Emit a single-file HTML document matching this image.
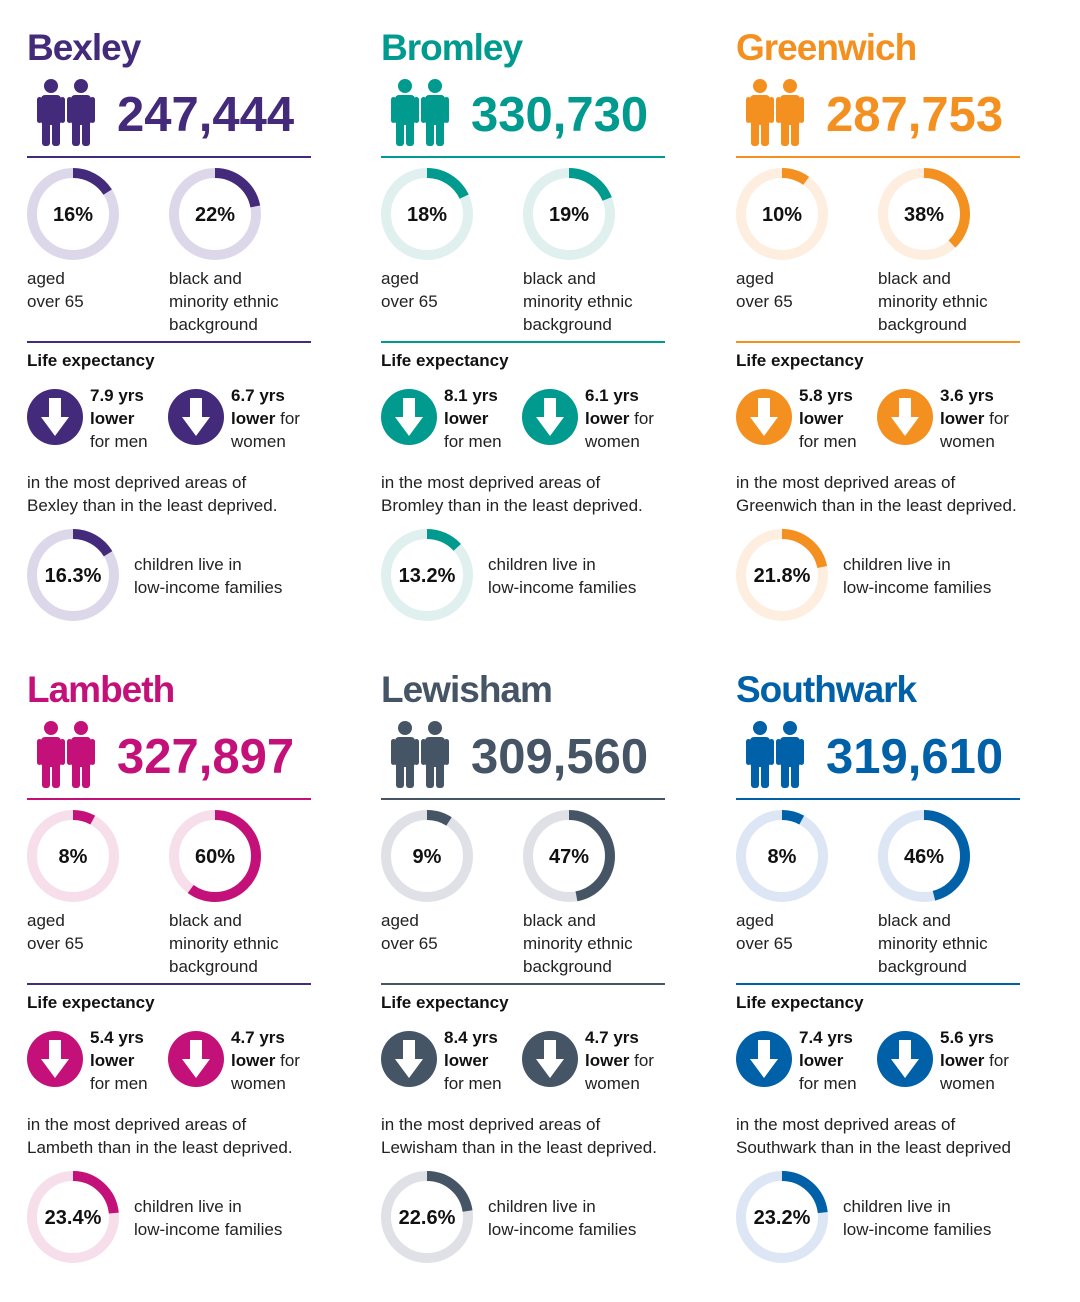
<!DOCTYPE html>
<html><head><meta charset="utf-8"><style>
html,body{margin:0;padding:0;background:#fff;}
svg{display:block;font-family:"Liberation Sans",sans-serif;}
.t{font-size:37px;font-weight:bold;letter-spacing:-1px}
.n{font-size:49px;font-weight:bold}
.p{font-size:20px;font-weight:bold;fill:#111;text-anchor:middle}
.s{font-size:17px;fill:#222}
.b{font-size:17px;fill:#111;font-weight:bold}
</style></head><body>
<svg width="1080" height="1302" viewBox="0 0 1080 1302" xmlns="http://www.w3.org/2000/svg">
<defs>
<g id="man">
<circle cx="14" cy="8" r="7"/>
<rect x="4" y="17" width="20" height="30" rx="4"/>
<rect x="0" y="19" width="5" height="26" rx="2.5"/>
<rect x="23" y="19" width="5" height="26" rx="2.5"/>
<rect x="5" y="40" width="8" height="28" rx="3"/>
<rect x="15" y="40" width="8" height="28" rx="3"/>
</g>
<g id="people"><use href="#man" x="37" y="78"/><use href="#man" x="67" y="78"/></g>
<g id="arrow">
<rect x="-6" y="-19" width="12" height="20" fill="#fff"/>
<polygon points="-14,0 14,0 0,19" fill="#fff"/>
</g>
</defs>

<!-- Bexley -->
<g transform="translate(0,0)">
<text x="27" y="60" class="t" fill="#432a7a">Bexley</text>
<g fill="#432a7a"><use href="#people"/></g>
<text x="117" y="131" class="n" fill="#432a7a">247,444</text>
<rect x="27" y="156" width="284" height="2" fill="#432a7a"/>
<circle cx="73" cy="214" r="41" fill="none" stroke="#dcd8ea" stroke-width="10"/>
<circle cx="73" cy="214" r="41" fill="none" stroke="#432a7a" stroke-width="10" stroke-dasharray="41.2 300" transform="rotate(-90 73 214)"/>
<text x="73" y="221" class="p">16%</text>
<circle cx="215" cy="214" r="41" fill="none" stroke="#dcd8ea" stroke-width="10"/>
<circle cx="215" cy="214" r="41" fill="none" stroke="#432a7a" stroke-width="10" stroke-dasharray="56.7 300" transform="rotate(-90 215 214)"/>
<text x="215" y="221" class="p">22%</text>
<text x="27" y="284" class="s">aged</text><text x="27" y="307" class="s">over 65</text>
<text x="169" y="284" class="s">black and</text><text x="169" y="307" class="s">minority ethnic</text><text x="169" y="330" class="s">background</text>
<rect x="27" y="341" width="284" height="2" fill="#432a7a"/>
<text x="27" y="366" class="b">Life expectancy</text>
<circle cx="55" cy="417" r="28" fill="#432a7a"/><use href="#arrow" x="55" y="417"/>
<circle cx="196" cy="417" r="28" fill="#432a7a"/><use href="#arrow" x="196" y="417"/>
<text x="90" y="401" class="b">7.9 yrs</text><text x="90" y="424" class="b">lower</text><text x="90" y="447" class="s">for men</text>
<text x="231" y="401" class="b">6.7 yrs</text><text x="231" y="424"><tspan class="b">lower</tspan><tspan class="s"> for</tspan></text><text x="231" y="447" class="s">women</text>
<text x="27" y="488" class="s">in the most deprived areas of</text>
<text x="27" y="511" class="s">Bexley than in the least deprived.</text>
<circle cx="73" cy="575" r="41" fill="none" stroke="#dcd8ea" stroke-width="10"/>
<circle cx="73" cy="575" r="41" fill="none" stroke="#432a7a" stroke-width="10" stroke-dasharray="42 300" transform="rotate(-90 73 575)"/>
<text x="73" y="582" class="p">16.3%</text>
<text x="134" y="570" class="s">children live in</text><text x="134" y="593" class="s">low-income families</text>
</g>

<!-- Bromley -->
<g transform="translate(354,0)">
<text x="27" y="60" class="t" fill="#009a8e">Bromley</text>
<g fill="#009a8e"><use href="#people"/></g>
<text x="117" y="131" class="n" fill="#009a8e">330,730</text>
<rect x="27" y="156" width="284" height="2" fill="#009a8e"/>
<circle cx="73" cy="214" r="41" fill="none" stroke="#dff0ee" stroke-width="10"/>
<circle cx="73" cy="214" r="41" fill="none" stroke="#009a8e" stroke-width="10" stroke-dasharray="46.4 300" transform="rotate(-90 73 214)"/>
<text x="73" y="221" class="p">18%</text>
<circle cx="215" cy="214" r="41" fill="none" stroke="#dff0ee" stroke-width="10"/>
<circle cx="215" cy="214" r="41" fill="none" stroke="#009a8e" stroke-width="10" stroke-dasharray="48.9 300" transform="rotate(-90 215 214)"/>
<text x="215" y="221" class="p">19%</text>
<text x="27" y="284" class="s">aged</text><text x="27" y="307" class="s">over 65</text>
<text x="169" y="284" class="s">black and</text><text x="169" y="307" class="s">minority ethnic</text><text x="169" y="330" class="s">background</text>
<rect x="27" y="341" width="284" height="2" fill="#009a8e"/>
<text x="27" y="366" class="b">Life expectancy</text>
<circle cx="55" cy="417" r="28" fill="#009a8e"/><use href="#arrow" x="55" y="417"/>
<circle cx="196" cy="417" r="28" fill="#009a8e"/><use href="#arrow" x="196" y="417"/>
<text x="90" y="401" class="b">8.1 yrs</text><text x="90" y="424" class="b">lower</text><text x="90" y="447" class="s">for men</text>
<text x="231" y="401" class="b">6.1 yrs</text><text x="231" y="424"><tspan class="b">lower</tspan><tspan class="s"> for</tspan></text><text x="231" y="447" class="s">women</text>
<text x="27" y="488" class="s">in the most deprived areas of</text>
<text x="27" y="511" class="s">Bromley than in the least deprived.</text>
<circle cx="73" cy="575" r="41" fill="none" stroke="#dff0ee" stroke-width="10"/>
<circle cx="73" cy="575" r="41" fill="none" stroke="#009a8e" stroke-width="10" stroke-dasharray="34 300" transform="rotate(-90 73 575)"/>
<text x="73" y="582" class="p">13.2%</text>
<text x="134" y="570" class="s">children live in</text><text x="134" y="593" class="s">low-income families</text>
</g>

<!-- Greenwich -->
<g transform="translate(709,0)">
<text x="27" y="60" class="t" fill="#f39020">Greenwich</text>
<g fill="#f39020"><use href="#people"/></g>
<text x="117" y="131" class="n" fill="#f39020">287,753</text>
<rect x="27" y="156" width="284" height="2" fill="#f39020"/>
<circle cx="73" cy="214" r="41" fill="none" stroke="#fdeee0" stroke-width="10"/>
<circle cx="73" cy="214" r="41" fill="none" stroke="#f39020" stroke-width="10" stroke-dasharray="25.8 300" transform="rotate(-90 73 214)"/>
<text x="73" y="221" class="p">10%</text>
<circle cx="215" cy="214" r="41" fill="none" stroke="#fdeee0" stroke-width="10"/>
<circle cx="215" cy="214" r="41" fill="none" stroke="#f39020" stroke-width="10" stroke-dasharray="97.9 300" transform="rotate(-90 215 214)"/>
<text x="215" y="221" class="p">38%</text>
<text x="27" y="284" class="s">aged</text><text x="27" y="307" class="s">over 65</text>
<text x="169" y="284" class="s">black and</text><text x="169" y="307" class="s">minority ethnic</text><text x="169" y="330" class="s">background</text>
<rect x="27" y="341" width="284" height="2" fill="#f39020"/>
<text x="27" y="366" class="b">Life expectancy</text>
<circle cx="55" cy="417" r="28" fill="#f39020"/><use href="#arrow" x="55" y="417"/>
<circle cx="196" cy="417" r="28" fill="#f39020"/><use href="#arrow" x="196" y="417"/>
<text x="90" y="401" class="b">5.8 yrs</text><text x="90" y="424" class="b">lower</text><text x="90" y="447" class="s">for men</text>
<text x="231" y="401" class="b">3.6 yrs</text><text x="231" y="424"><tspan class="b">lower</tspan><tspan class="s"> for</tspan></text><text x="231" y="447" class="s">women</text>
<text x="27" y="488" class="s">in the most deprived areas of</text>
<text x="27" y="511" class="s">Greenwich than in the least deprived.</text>
<circle cx="73" cy="575" r="41" fill="none" stroke="#fdeee0" stroke-width="10"/>
<circle cx="73" cy="575" r="41" fill="none" stroke="#f39020" stroke-width="10" stroke-dasharray="56.2 300" transform="rotate(-90 73 575)"/>
<text x="73" y="582" class="p">21.8%</text>
<text x="134" y="570" class="s">children live in</text><text x="134" y="593" class="s">low-income families</text>
</g>

<!-- Lambeth -->
<g transform="translate(0,642)">
<text x="27" y="60" class="t" fill="#c4117a">Lambeth</text>
<g fill="#c4117a"><use href="#people"/></g>
<text x="117" y="131" class="n" fill="#c4117a">327,897</text>
<rect x="27" y="156" width="284" height="2" fill="#c4117a"/>
<circle cx="73" cy="214" r="41" fill="none" stroke="#f6deea" stroke-width="10"/>
<circle cx="73" cy="214" r="41" fill="none" stroke="#c4117a" stroke-width="10" stroke-dasharray="20.6 300" transform="rotate(-90 73 214)"/>
<text x="73" y="221" class="p">8%</text>
<circle cx="215" cy="214" r="41" fill="none" stroke="#f6deea" stroke-width="10"/>
<circle cx="215" cy="214" r="41" fill="none" stroke="#c4117a" stroke-width="10" stroke-dasharray="154.6 300" transform="rotate(-90 215 214)"/>
<text x="215" y="221" class="p">60%</text>
<text x="27" y="284" class="s">aged</text><text x="27" y="307" class="s">over 65</text>
<text x="169" y="284" class="s">black and</text><text x="169" y="307" class="s">minority ethnic</text><text x="169" y="330" class="s">background</text>
<rect x="27" y="341" width="284" height="2" fill="#432a7a"/>
<text x="27" y="366" class="b">Life expectancy</text>
<circle cx="55" cy="417" r="28" fill="#c4117a"/><use href="#arrow" x="55" y="417"/>
<circle cx="196" cy="417" r="28" fill="#c4117a"/><use href="#arrow" x="196" y="417"/>
<text x="90" y="401" class="b">5.4 yrs</text><text x="90" y="424" class="b">lower</text><text x="90" y="447" class="s">for men</text>
<text x="231" y="401" class="b">4.7 yrs</text><text x="231" y="424"><tspan class="b">lower</tspan><tspan class="s"> for</tspan></text><text x="231" y="447" class="s">women</text>
<text x="27" y="488" class="s">in the most deprived areas of</text>
<text x="27" y="511" class="s">Lambeth than in the least deprived.</text>
<circle cx="73" cy="575" r="41" fill="none" stroke="#f6deea" stroke-width="10"/>
<circle cx="73" cy="575" r="41" fill="none" stroke="#c4117a" stroke-width="10" stroke-dasharray="60.3 300" transform="rotate(-90 73 575)"/>
<text x="73" y="582" class="p">23.4%</text>
<text x="134" y="570" class="s">children live in</text><text x="134" y="593" class="s">low-income families</text>
</g>

<!-- Lewisham -->
<g transform="translate(354,642)">
<text x="27" y="60" class="t" fill="#465566">Lewisham</text>
<g fill="#465566"><use href="#people"/></g>
<text x="117" y="131" class="n" fill="#465566">309,560</text>
<rect x="27" y="156" width="284" height="2" fill="#465566"/>
<circle cx="73" cy="214" r="41" fill="none" stroke="#dfe1e6" stroke-width="10"/>
<circle cx="73" cy="214" r="41" fill="none" stroke="#465566" stroke-width="10" stroke-dasharray="23.2 300" transform="rotate(-90 73 214)"/>
<text x="73" y="221" class="p">9%</text>
<circle cx="215" cy="214" r="41" fill="none" stroke="#dfe1e6" stroke-width="10"/>
<circle cx="215" cy="214" r="41" fill="none" stroke="#465566" stroke-width="10" stroke-dasharray="121.1 300" transform="rotate(-90 215 214)"/>
<text x="215" y="221" class="p">47%</text>
<text x="27" y="284" class="s">aged</text><text x="27" y="307" class="s">over 65</text>
<text x="169" y="284" class="s">black and</text><text x="169" y="307" class="s">minority ethnic</text><text x="169" y="330" class="s">background</text>
<rect x="27" y="341" width="284" height="2" fill="#465566"/>
<text x="27" y="366" class="b">Life expectancy</text>
<circle cx="55" cy="417" r="28" fill="#465566"/><use href="#arrow" x="55" y="417"/>
<circle cx="196" cy="417" r="28" fill="#465566"/><use href="#arrow" x="196" y="417"/>
<text x="90" y="401" class="b">8.4 yrs</text><text x="90" y="424" class="b">lower</text><text x="90" y="447" class="s">for men</text>
<text x="231" y="401" class="b">4.7 yrs</text><text x="231" y="424"><tspan class="b">lower</tspan><tspan class="s"> for</tspan></text><text x="231" y="447" class="s">women</text>
<text x="27" y="488" class="s">in the most deprived areas of</text>
<text x="27" y="511" class="s">Lewisham than in the least deprived.</text>
<circle cx="73" cy="575" r="41" fill="none" stroke="#dfe1e6" stroke-width="10"/>
<circle cx="73" cy="575" r="41" fill="none" stroke="#465566" stroke-width="10" stroke-dasharray="58.2 300" transform="rotate(-90 73 575)"/>
<text x="73" y="582" class="p">22.6%</text>
<text x="134" y="570" class="s">children live in</text><text x="134" y="593" class="s">low-income families</text>
</g>

<!-- Southwark -->
<g transform="translate(709,642)">
<text x="27" y="60" class="t" fill="#0060a8">Southwark</text>
<g fill="#0060a8"><use href="#people"/></g>
<text x="117" y="131" class="n" fill="#0060a8">319,610</text>
<rect x="27" y="156" width="284" height="2" fill="#0060a8"/>
<circle cx="73" cy="214" r="41" fill="none" stroke="#dde6f5" stroke-width="10"/>
<circle cx="73" cy="214" r="41" fill="none" stroke="#0060a8" stroke-width="10" stroke-dasharray="20.6 300" transform="rotate(-90 73 214)"/>
<text x="73" y="221" class="p">8%</text>
<circle cx="215" cy="214" r="41" fill="none" stroke="#dde6f5" stroke-width="10"/>
<circle cx="215" cy="214" r="41" fill="none" stroke="#0060a8" stroke-width="10" stroke-dasharray="118.5 300" transform="rotate(-90 215 214)"/>
<text x="215" y="221" class="p">46%</text>
<text x="27" y="284" class="s">aged</text><text x="27" y="307" class="s">over 65</text>
<text x="169" y="284" class="s">black and</text><text x="169" y="307" class="s">minority ethnic</text><text x="169" y="330" class="s">background</text>
<rect x="27" y="341" width="284" height="2" fill="#0060a8"/>
<text x="27" y="366" class="b">Life expectancy</text>
<circle cx="55" cy="417" r="28" fill="#0060a8"/><use href="#arrow" x="55" y="417"/>
<circle cx="196" cy="417" r="28" fill="#0060a8"/><use href="#arrow" x="196" y="417"/>
<text x="90" y="401" class="b">7.4 yrs</text><text x="90" y="424" class="b">lower</text><text x="90" y="447" class="s">for men</text>
<text x="231" y="401" class="b">5.6 yrs</text><text x="231" y="424"><tspan class="b">lower</tspan><tspan class="s"> for</tspan></text><text x="231" y="447" class="s">women</text>
<text x="27" y="488" class="s">in the most deprived areas of</text>
<text x="27" y="511" class="s">Southwark than in the least deprived</text>
<circle cx="73" cy="575" r="41" fill="none" stroke="#dde6f5" stroke-width="10"/>
<circle cx="73" cy="575" r="41" fill="none" stroke="#0060a8" stroke-width="10" stroke-dasharray="59.8 300" transform="rotate(-90 73 575)"/>
<text x="73" y="582" class="p">23.2%</text>
<text x="134" y="570" class="s">children live in</text><text x="134" y="593" class="s">low-income families</text>
</g>
</svg>
</body></html>
